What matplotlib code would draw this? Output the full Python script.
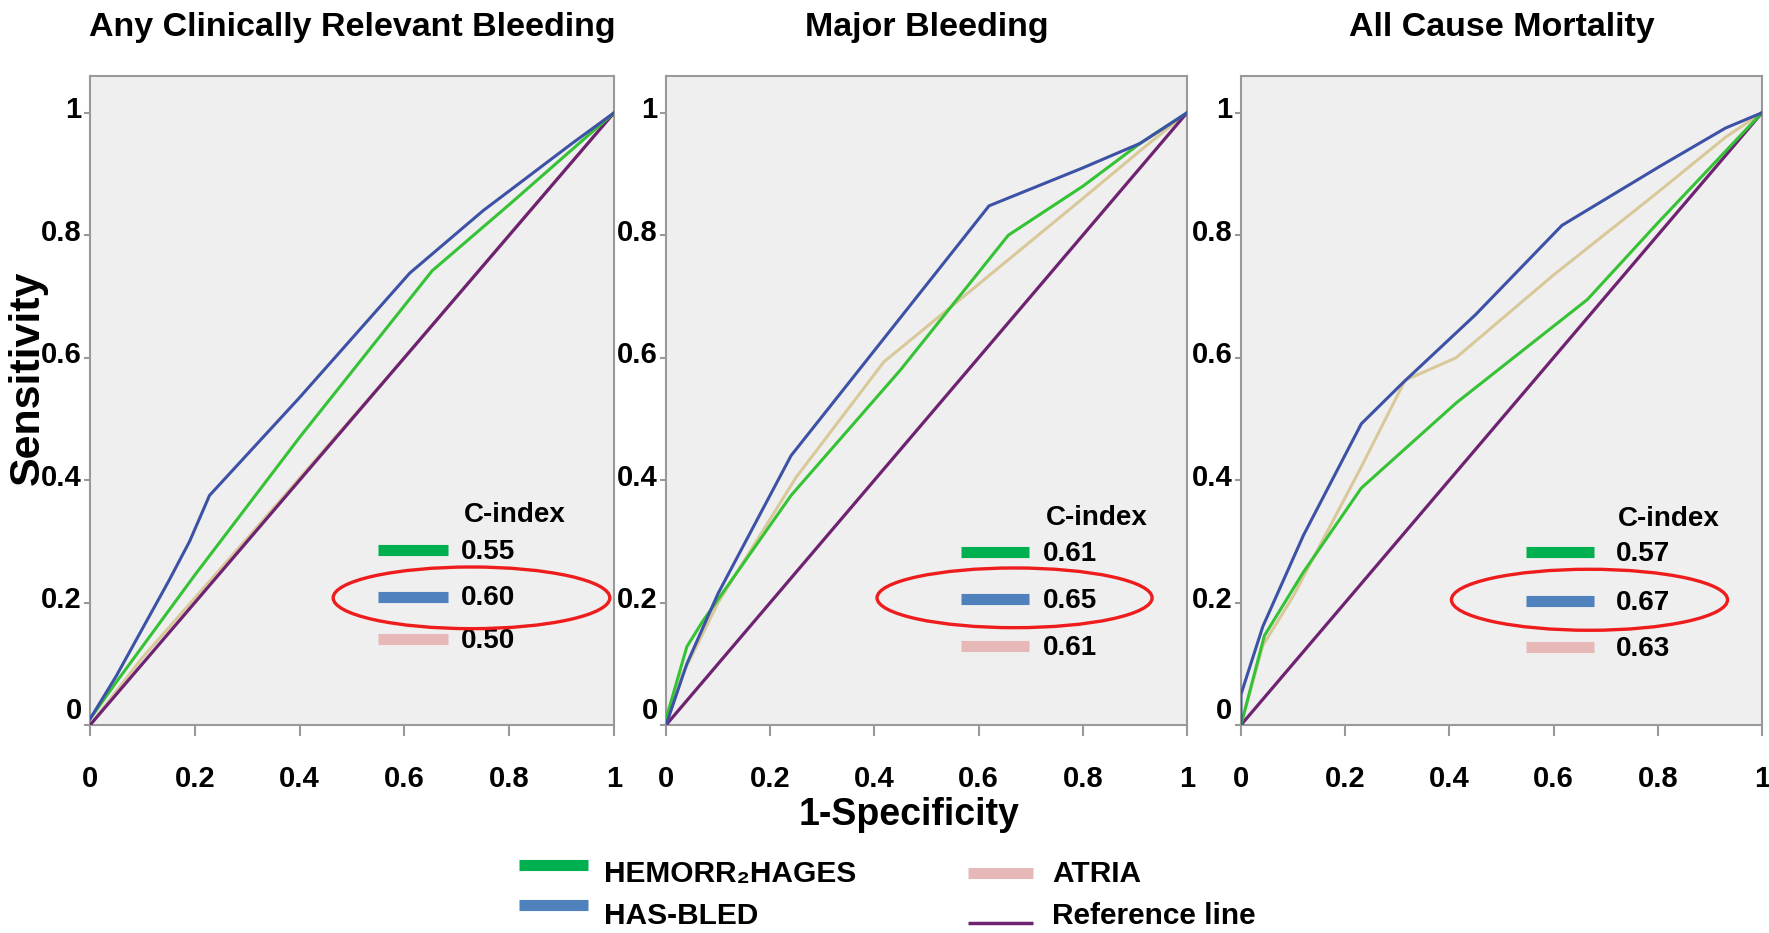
import matplotlib
matplotlib.use("Agg")
import matplotlib.pyplot as plt
from matplotlib.lines import Line2D
from matplotlib.patches import Ellipse
import matplotlib.transforms as mtransforms

plt.rcParams['font.family'] = ['Liberation Sans', 'DejaVu Sans']
plt.rcParams['font.weight'] = 'bold'

# ---------------- data ----------------
titles = ["Any Clinically Relevant Bleeding", "Major Bleeding", "All Cause Mortality"]
score_names = ["HEMORR\u2082HAGES", "HAS-BLED", "ATRIA"]
ref_x = [0, 1]
ref_y = [0, 1]

# Any clinically relevant bleeding
crb_hemorr_x = [0, 0.05, 0.20, 0.40, 0.653, 0.80, 0.92, 1.0]
crb_hemorr_y = [0.01, 0.07, 0.245, 0.47, 0.742, 0.85, 0.94, 1.0]
crb_hasbled_x = [0, 0.05, 0.15, 0.19, 0.228, 0.40, 0.61, 0.75, 0.92, 1.0]
crb_hasbled_y = [0.01, 0.08, 0.235, 0.30, 0.375, 0.535, 0.738, 0.84, 0.95, 1.0]
crb_atria_x = [0, 0.10, 0.30, 0.60, 1.0]
crb_atria_y = [0, 0.11, 0.305, 0.60, 1.0]
crb_cindex = ["0.55", "0.60", "0.50"]

# Major bleeding
mb_hemorr_x = [0, 0.04, 0.07, 0.24, 0.45, 0.657, 0.80, 0.91, 1.0]
mb_hemorr_y = [0.01, 0.128, 0.169, 0.375, 0.58, 0.80, 0.88, 0.95, 1.0]
mb_hasbled_x = [0, 0.04, 0.10, 0.24, 0.62, 0.80, 0.91, 1.0]
mb_hasbled_y = [0, 0.10, 0.215, 0.44, 0.848, 0.91, 0.95, 1.0]
mb_atria_x = [0, 0.03, 0.10, 0.25, 0.418, 0.60, 0.80, 0.92, 1.0]
mb_atria_y = [0, 0.08, 0.20, 0.405, 0.593, 0.72, 0.86, 0.945, 1.0]
mb_cindex = ["0.61", "0.65", "0.61"]

# All cause mortality
acm_hemorr_x = [0, 0.045, 0.12, 0.231, 0.413, 0.665, 0.80, 1.0]
acm_hemorr_y = [0, 0.146, 0.25, 0.387, 0.526, 0.695, 0.82, 1.0]
acm_hasbled_x = [0, 0.0, 0.042, 0.12, 0.231, 0.312, 0.45, 0.616, 0.805, 0.93, 1.0]
acm_hasbled_y = [0, 0.05, 0.161, 0.31, 0.492, 0.56, 0.67, 0.816, 0.913, 0.975, 1.0]
acm_atria_x = [0, 0.042, 0.10, 0.23, 0.315, 0.413, 0.60, 0.80, 0.93, 1.0]
acm_atria_y = [0, 0.13, 0.21, 0.42, 0.563, 0.60, 0.735, 0.87, 0.96, 1.0]
acm_cindex = ["0.57", "0.67", "0.63"]

ticks = [0, 0.2, 0.4, 0.6, 0.8, 1]
tick_labels = ["0", "0.2", "0.4", "0.6", "0.8", "1"]

# ---------------- styles ----------------
curve_colors = ["#35c235", "#3d52a6", "#d9c99a"]
patch_colors = ["#00b050", "#4f81bd", "#e6b9b8"]
ref_color = "#6e2271"
bg = "#efefef"
frame_col = "#999999"

panels = [
    ([crb_hemorr_x, crb_hasbled_x, crb_atria_x], [crb_hemorr_y, crb_hasbled_y, crb_atria_y], crb_cindex),
    ([mb_hemorr_x, mb_hasbled_x, mb_atria_x], [mb_hemorr_y, mb_hasbled_y, mb_atria_y], mb_cindex),
    ([acm_hemorr_x, acm_hasbled_x, acm_atria_x], [acm_hemorr_y, acm_hasbled_y, acm_atria_y], acm_cindex),
]

axes_pos = [
    [0.0509, 0.2229, 0.2962, 0.6956],
    [0.3765, 0.2229, 0.2945, 0.6956],
    [0.7015, 0.2229, 0.2945, 0.6956],
]

# C-index legend layout (axes fraction)
leg_layout = [
    dict(ptx=(0.550, 0.683), py=(0.269, 0.198, 0.132), vx=0.707, cx=0.714, cy=0.323, ell=(0.728, 0.196, 0.528, 0.095)),
    dict(ptx=(0.567, 0.697), py=(0.266, 0.194, 0.122), vx=0.723, cx=0.730, cy=0.319, ell=(0.669, 0.196, 0.528, 0.092)),
    dict(ptx=(0.548, 0.677), py=(0.266, 0.191, 0.120), vx=0.719, cx=0.724, cy=0.318, ell=(0.669, 0.193, 0.530, 0.094)),
]

fig = plt.figure(figsize=(17.69, 9.33), dpi=100)

for i, (xs, ys, cidx) in enumerate(panels):
    ax = fig.add_axes(axes_pos[i])
    ax.set_facecolor(bg)
    for sp in ax.spines.values():
        sp.set_color(frame_col)
        sp.set_linewidth(1.5)
    # ATRIA first (under), then reference, then others
    ax.plot(xs[2], ys[2], color=curve_colors[2], lw=2.2, zorder=2)
    ax.plot(ref_x, ref_y, color=ref_color, lw=2.3, zorder=3)
    ax.plot(xs[0], ys[0], color=curve_colors[0], lw=2.2, zorder=4)
    ax.plot(xs[1], ys[1], color=curve_colors[1], lw=2.2, zorder=5)
    ax.set_xlim(0, 1)
    ax.set_ylim(0, 1.06)
    ax.set_xticks(ticks)
    ax.set_xticklabels(tick_labels)
    ax.set_yticks(ticks)
    ax.set_yticklabels(tick_labels)
    ax.tick_params(axis='x', length=8, width=1.5, color=frame_col, pad=21, labelsize=21)
    ax.tick_params(axis='y', length=4, width=1.5, color=frame_col, pad=2, labelsize=21)
    for lab in ax.get_xticklabels() + ax.get_yticklabels():
        lab.set_fontweight('bold')
    # lift y labels slightly above their ticks, "0" more, as in reference
    for j, lab in enumerate(ax.get_yticklabels()):
        dy = 12 if j == 0 else 4
        lab.set_transform(lab.get_transform() + mtransforms.ScaledTranslation(0, dy / 72, fig.dpi_scale_trans))

    fig.text(axes_pos[i][0] + axes_pos[i][2] / 2, 0.970, titles[i],
             ha='center', va='center', fontsize=24.5, fontweight='bold')

    L = leg_layout[i]
    ax.text(L['cx'], L['cy'], "C-index", transform=ax.transAxes, ha='left', va='center',
            fontsize=20, fontweight='bold')
    for k in range(3):
        ax.add_line(Line2D(list(L['ptx']), [L['py'][k]] * 2, transform=ax.transAxes,
                           color=patch_colors[k], lw=8, solid_capstyle='butt', zorder=6))
        ax.text(L['vx'], L['py'][k] - 0.003, cidx[k], transform=ax.transAxes, ha='left', va='center',
                fontsize=20, fontweight='bold', zorder=7)
    ex, ey, ew, eh = L['ell']
    ax.add_patch(Ellipse((ex, ey), ew, eh, transform=ax.transAxes, fill=False,
                         edgecolor='#ee1c1c', lw=2.4, zorder=8, clip_on=False))

fig.text(0.0155, 0.595, "Sensitivity", rotation=90, ha='center', va='center',
         fontsize=31, fontweight='bold')
fig.text(0.514, 0.126, "1-Specificity", ha='center', va='center', fontsize=27, fontweight='bold')

# bottom legend
leg_items = [
    (0.2934, 0.3324, 0.0729, 0.3412, 0.0632, patch_colors[0], 8, score_names[0]),
    (0.2934, 0.3324, 0.0300, 0.3412, 0.0182, patch_colors[1], 8, score_names[1]),
    (0.5472, 0.5839, 0.0643, 0.5947, 0.0632, patch_colors[2], 8, score_names[2]),
    (0.5472, 0.5839, 0.0107, 0.5947, 0.0182, ref_color, 2.5, "Reference line"),
]
for x0, x1, yl, xt, yt, col, lw, lab in leg_items:
    fig.add_artist(Line2D([x0, x1], [yl, yl], transform=fig.transFigure, color=col, lw=lw,
                          solid_capstyle='butt'))
    fig.text(xt, yt, lab, ha='left', va='center', fontsize=21.5, fontweight='bold')

fig.savefig("out.png", dpi=100, facecolor='white')
